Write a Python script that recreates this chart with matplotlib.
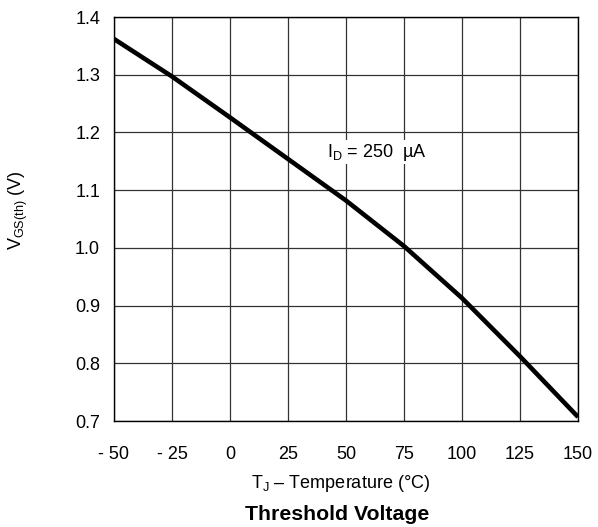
import matplotlib
matplotlib.use('Agg')
import matplotlib.pyplot as plt
import numpy as np

plt.rcParams['font.family'] = ['Liberation Sans', 'DejaVu Sans']
plt.rcParams['mathtext.fontset'] = 'custom'
plt.rcParams['mathtext.rm'] = 'Liberation Sans'
plt.rcParams['mathtext.it'] = 'Liberation Sans'
plt.rcParams['mathtext.default'] = 'regular'

# threshold voltage vs junction temperature
temp = [-50, -25, 0, 25, 50, 75, 100, 125, 150]
vgs_th = [1.362, 1.297, 1.226, 1.154, 1.082, 1.003, 0.913, 0.812, 0.707]

xticks = [-50, -25, 0, 25, 50, 75, 100, 125, 150]
xlabels = ['- 50', '- 25', '0', '25', '50', '75', '100', '125', '150']
yticks = [0.7, 0.8, 0.9, 1.0, 1.1, 1.2, 1.3, 1.4]

fig = plt.figure(figsize=(5.98, 5.27), dpi=100)
ax = fig.add_axes([0.1906, 0.2011, 0.7760, 0.7666])

ax.plot(temp, vgs_th, color='black', lw=3.3, solid_capstyle='butt', zorder=3)

ax.set_xlim(-50, 150)
ax.set_ylim(0.7, 1.4)
ax.set_xticks(xticks)
ax.set_xticklabels(xlabels)
ax.set_yticks(yticks)
ax.set_yticklabels(['%.1f' % v for v in yticks])
ax.tick_params(length=0, labelsize=13, colors='black')
ax.tick_params(axis='x', pad=18)
ax.tick_params(axis='y', pad=10)
ax.grid(True, color='#333333', lw=0.9)
ax.set_axisbelow(True)
for s in ax.spines.values():
    s.set_linewidth(1.0)
    s.set_color('black')

ax.text(41.8, 1.166, 'I$_D$ = 250  µA', fontsize=13, va='center', ha='left',
        bbox=dict(facecolor='white', edgecolor='none', pad=1.0), zorder=4)

fig.text(0.569, 1 - 483 / 527, 'T$_J$ – Temperature (°C)', fontsize=13,
         ha='center', va='center')
fig.text(0.564, 1 - 514 / 527, 'Threshold Voltage', fontsize=15.3,
         fontweight='bold', ha='center', va='center')
fig.text(18 / 598, 1 - 210 / 527, 'V$_{GS(th)}$ (V)', fontsize=13,
         rotation=90, ha='center', va='center')

fig.savefig('out.png', dpi=100)
